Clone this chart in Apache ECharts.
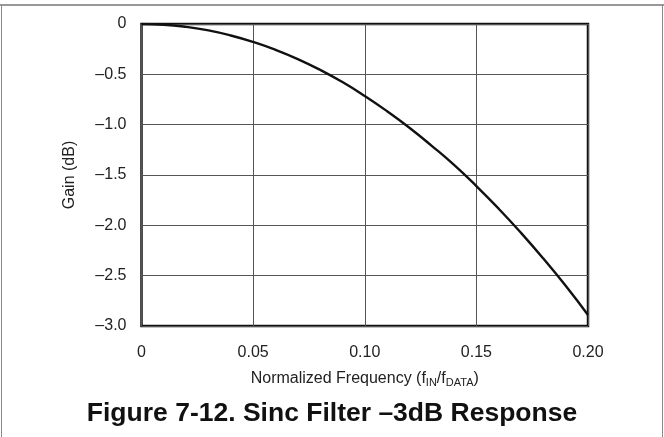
<!DOCTYPE html>
<html>
<head>
<meta charset="utf-8">
<script src="https://cdn.jsdelivr.net/npm/echarts@6/dist/echarts.min.js"></script>
<style>
  html, body { margin: 0; padding: 0; background: #fff; }
  #chart { width: 664px; height: 437px; }
</style>
</head>
<body>
<div id="chart"></div>
<script>
// normalized frequency (fIN/fDATA)
const freq = [0, 0.01, 0.02, 0.03, 0.04, 0.05, 0.06, 0.07, 0.08, 0.09, 0.10,
  0.11, 0.12, 0.13, 0.14, 0.15, 0.16, 0.17, 0.18, 0.19, 0.20];
// gain in dB
const gain = [0, -0.007, -0.029, -0.064, -0.114, -0.178, -0.256, -0.348, -0.455, -0.577, -0.715,
  -0.866, -1.03, -1.21, -1.40, -1.61, -1.835, -2.075, -2.33, -2.60, -2.89];
const xTicks = ['0', '0.05', '0.10', '0.15', '0.20'];
const yTicks = ['0', '–0.5', '–1.0', '–1.5', '–2.0', '–2.5', '–3.0'];

const font = '"Liberation Sans", Arial, Helvetica, sans-serif';
const chart = echarts.init(document.getElementById('chart'));

chart.setOption({
  animation: false,
  title: {
    text: 'Figure 7-12. Sinc Filter –3dB Response',
    left: 'center',
    top: 395,
    textStyle: { fontFamily: font, fontSize: 26.5, fontWeight: 'bold', color: '#111' }
  },
  grid: {
    left: 141.5, right: 76, top: 24, bottom: 111,
    show: true, borderColor: '#111', borderWidth: 2.5
  },
  // outer frame
  graphic: [
    { type: 'line', shape: { x1: 0, y1: 5, x2: 664, y2: 5 }, style: { stroke: '#333', lineWidth: 1 } },
    { type: 'line', shape: { x1: 1.5, y1: 5, x2: 1.5, y2: 437 }, style: { stroke: '#888', lineWidth: 1 } },
    { type: 'line', shape: { x1: 662.5, y1: 5, x2: 662.5, y2: 437 }, style: { stroke: '#888', lineWidth: 1 } }
  ],
  xAxis: {
    type: 'value', min: 0, max: 0.2, interval: 0.05,
    axisLine: { show: false }, axisTick: { show: false },
    splitLine: { show: true, lineStyle: { color: '#555', width: 1 } },
    axisLabel: {
      margin: 19, fontFamily: font, fontSize: 16, color: '#222',
      formatter: v => xTicks[Math.round(v / 0.05)]
    },
    name: '{n|Normalized Frequency (f}{s|IN}{n|/f}{s|DATA}{n|)}',
    nameLocation: 'middle', nameGap: 44,
    nameTextStyle: {
      rich: {
        n: { fontFamily: font, fontSize: 16, color: '#222' },
        s: { fontFamily: font, fontSize: 11, color: '#222', verticalAlign: 'bottom', padding: [7, 0, 0, 0] }
      }
    }
  },
  yAxis: {
    type: 'value', min: -3, max: 0, interval: 0.5,
    axisLine: { show: false }, axisTick: { show: false },
    splitLine: { show: true, lineStyle: { color: '#555', width: 1 } },
    axisLabel: {
      margin: 15, fontFamily: font, fontSize: 16, color: '#222',
      formatter: v => yTicks[Math.round(-v / 0.5)]
    },
    name: 'Gain (dB)', nameLocation: 'middle', nameGap: 64,
    nameTextStyle: { fontFamily: font, fontSize: 16, color: '#222' }
  },
  series: [{
    type: 'line',
    data: freq.map((f, i) => [f, gain[i]]),
    smooth: true, showSymbol: false,
    lineStyle: { color: '#111', width: 2.4 }
  }]
});
</script>
</body>
</html>
